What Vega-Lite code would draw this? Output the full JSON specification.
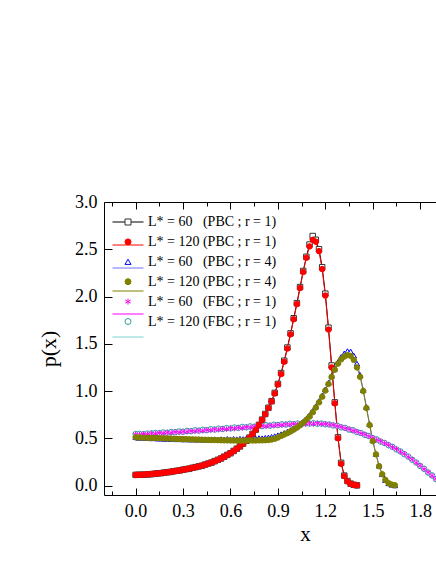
{
"$schema": "https://vega.github.io/schema/vega-lite/v6.json",
"width": 332, "height": 293,
"autosize": {"type": "none"},
"padding": {"left": 104, "top": 202, "right": 0, "bottom": 69},
"background": "white",
"config": {
  "view": {"stroke": null},
  "axis": {"labelFont": "Liberation Serif", "labelFontSize": 18, "labelColor": "black", "titleFont": "Liberation Serif", "titleColor": "black", "titleFontWeight": "normal", "domainColor": "black", "tickColor": "black", "grid": false, "labelFlush": false, "labelOverlap": false, "tickWidth": 1, "domainWidth": 1}
},
"data": {"values": [
{"s":"a","x":0,"p":0.113},{"s":"a","x":0.02,"p":0.114},{"s":"a","x":0.04,"p":0.114},{"s":"a","x":0.06,"p":0.116},{"s":"a","x":0.08,"p":0.118},{"s":"a","x":0.1,"p":0.121},{"s":"a","x":0.12,"p":0.124},{"s":"a","x":0.14,"p":0.129},{"s":"a","x":0.16,"p":0.131},{"s":"a","x":0.18,"p":0.137},{"s":"a","x":0.2,"p":0.141},{"s":"a","x":0.22,"p":0.144},{"s":"a","x":0.24,"p":0.151},{"s":"a","x":0.26,"p":0.156},{"s":"a","x":0.28,"p":0.16},{"s":"a","x":0.3,"p":0.168},{"s":"a","x":0.32,"p":0.174},{"s":"a","x":0.34,"p":0.179},{"s":"a","x":0.36,"p":0.188},{"s":"a","x":0.38,"p":0.195},{"s":"a","x":0.4,"p":0.203},{"s":"a","x":0.42,"p":0.21},{"s":"a","x":0.44,"p":0.222},{"s":"a","x":0.46,"p":0.233},{"s":"a","x":0.48,"p":0.243},{"s":"a","x":0.5,"p":0.258},{"s":"a","x":0.52,"p":0.272},{"s":"a","x":0.54,"p":0.286},{"s":"a","x":0.56,"p":0.305},{"s":"a","x":0.58,"p":0.324},{"s":"a","x":0.6,"p":0.342},{"s":"a","x":0.62,"p":0.366},{"s":"a","x":0.64,"p":0.39},{"s":"a","x":0.66,"p":0.414},{"s":"a","x":0.68,"p":0.444},{"s":"a","x":0.7,"p":0.474},{"s":"a","x":0.72,"p":0.507},{"s":"a","x":0.74,"p":0.547},{"s":"a","x":0.76,"p":0.592},{"s":"a","x":0.78,"p":0.642},{"s":"a","x":0.8,"p":0.697},{"s":"a","x":0.82,"p":0.757},{"s":"a","x":0.84,"p":0.823},{"s":"a","x":0.86,"p":0.893},{"s":"a","x":0.88,"p":0.98},{"s":"a","x":0.9,"p":1.075},{"s":"a","x":0.92,"p":1.19},{"s":"a","x":0.94,"p":1.32},{"s":"a","x":0.96,"p":1.46},{"s":"a","x":0.98,"p":1.61},{"s":"a","x":1.0,"p":1.77},{"s":"a","x":1.02,"p":1.93},{"s":"a","x":1.04,"p":2.1},{"s":"a","x":1.06,"p":2.27},{"s":"a","x":1.08,"p":2.42},{"s":"a","x":1.1,"p":2.55},{"s":"a","x":1.12,"p":2.64},{"s":"a","x":1.14,"p":2.6},{"s":"a","x":1.16,"p":2.5},{"s":"a","x":1.18,"p":2.31},{"s":"a","x":1.2,"p":2.03},{"s":"a","x":1.22,"p":1.67},{"s":"a","x":1.24,"p":1.27},{"s":"a","x":1.26,"p":0.88},{"s":"a","x":1.28,"p":0.51},{"s":"a","x":1.3,"p":0.24},{"s":"a","x":1.32,"p":0.105},{"s":"a","x":1.34,"p":0.048},{"s":"a","x":1.36,"p":0.02},{"s":"a","x":1.38,"p":0.008},{"s":"a","x":1.4,"p":0.002},
{"s":"c","x":0,"p":0.512},{"s":"c","x":0.02,"p":0.505},{"s":"c","x":0.04,"p":0.508},{"s":"c","x":0.06,"p":0.502},{"s":"c","x":0.08,"p":0.504},{"s":"c","x":0.1,"p":0.5},{"s":"c","x":0.12,"p":0.503},{"s":"c","x":0.14,"p":0.497},{"s":"c","x":0.16,"p":0.499},{"s":"c","x":0.18,"p":0.494},{"s":"c","x":0.2,"p":0.497},{"s":"c","x":0.22,"p":0.492},{"s":"c","x":0.24,"p":0.495},{"s":"c","x":0.26,"p":0.49},{"s":"c","x":0.28,"p":0.493},{"s":"c","x":0.3,"p":0.488},{"s":"c","x":0.32,"p":0.491},{"s":"c","x":0.34,"p":0.487},{"s":"c","x":0.36,"p":0.49},{"s":"c","x":0.38,"p":0.486},{"s":"c","x":0.4,"p":0.489},{"s":"c","x":0.42,"p":0.485},{"s":"c","x":0.44,"p":0.488},{"s":"c","x":0.46,"p":0.484},{"s":"c","x":0.48,"p":0.487},{"s":"c","x":0.5,"p":0.49},{"s":"c","x":0.52,"p":0.486},{"s":"c","x":0.54,"p":0.491},{"s":"c","x":0.56,"p":0.488},{"s":"c","x":0.58,"p":0.493},{"s":"c","x":0.6,"p":0.489},{"s":"c","x":0.62,"p":0.494},{"s":"c","x":0.64,"p":0.49},{"s":"c","x":0.66,"p":0.495},{"s":"c","x":0.68,"p":0.492},{"s":"c","x":0.7,"p":0.497},{"s":"c","x":0.72,"p":0.494},{"s":"c","x":0.74,"p":0.499},{"s":"c","x":0.76,"p":0.497},{"s":"c","x":0.78,"p":0.502},{"s":"c","x":0.8,"p":0.5},{"s":"c","x":0.82,"p":0.505},{"s":"c","x":0.84,"p":0.508},{"s":"c","x":0.86,"p":0.515},{"s":"c","x":0.88,"p":0.522},{"s":"c","x":0.9,"p":0.532},{"s":"c","x":0.92,"p":0.543},{"s":"c","x":0.94,"p":0.556},{"s":"c","x":0.96,"p":0.57},{"s":"c","x":0.98,"p":0.586},{"s":"c","x":1.0,"p":0.604},{"s":"c","x":1.02,"p":0.625},{"s":"c","x":1.04,"p":0.649},{"s":"c","x":1.06,"p":0.677},{"s":"c","x":1.08,"p":0.708},{"s":"c","x":1.1,"p":0.744},{"s":"c","x":1.12,"p":0.788},{"s":"c","x":1.14,"p":0.838},{"s":"c","x":1.16,"p":0.893},{"s":"c","x":1.18,"p":0.953},{"s":"c","x":1.2,"p":1.018},{"s":"c","x":1.22,"p":1.088},{"s":"c","x":1.24,"p":1.162},{"s":"c","x":1.26,"p":1.238},{"s":"c","x":1.28,"p":1.307},{"s":"c","x":1.3,"p":1.36},{"s":"c","x":1.32,"p":1.398},{"s":"c","x":1.34,"p":1.422},{"s":"c","x":1.36,"p":1.418},{"s":"c","x":1.38,"p":1.375},{"s":"c","x":1.4,"p":1.29},{"s":"c","x":1.42,"p":1.17},{"s":"c","x":1.44,"p":1.01},{"s":"c","x":1.46,"p":0.83},{"s":"c","x":1.48,"p":0.65},{"s":"c","x":1.5,"p":0.48},{"s":"c","x":1.52,"p":0.335},{"s":"c","x":1.54,"p":0.21},{"s":"c","x":1.56,"p":0.12},{"s":"c","x":1.58,"p":0.058},{"s":"c","x":1.6,"p":0.024},{"s":"c","x":1.62,"p":0.009},{"s":"c","x":1.64,"p":0.002},
{"s":"f","x":0,"p":0.545},{"s":"f","x":0.025,"p":0.547},{"s":"f","x":0.05,"p":0.543},{"s":"f","x":0.075,"p":0.55},{"s":"f","x":0.1,"p":0.552},{"s":"f","x":0.125,"p":0.556},{"s":"f","x":0.15,"p":0.553},{"s":"f","x":0.175,"p":0.562},{"s":"f","x":0.2,"p":0.559},{"s":"f","x":0.225,"p":0.566},{"s":"f","x":0.25,"p":0.564},{"s":"f","x":0.275,"p":0.572},{"s":"f","x":0.3,"p":0.569},{"s":"f","x":0.325,"p":0.578},{"s":"f","x":0.35,"p":0.575},{"s":"f","x":0.375,"p":0.584},{"s":"f","x":0.4,"p":0.581},{"s":"f","x":0.425,"p":0.59},{"s":"f","x":0.45,"p":0.586},{"s":"f","x":0.475,"p":0.596},{"s":"f","x":0.5,"p":0.592},{"s":"f","x":0.525,"p":0.602},{"s":"f","x":0.55,"p":0.598},{"s":"f","x":0.575,"p":0.608},{"s":"f","x":0.6,"p":0.604},{"s":"f","x":0.625,"p":0.614},{"s":"f","x":0.65,"p":0.61},{"s":"f","x":0.675,"p":0.62},{"s":"f","x":0.7,"p":0.616},{"s":"f","x":0.725,"p":0.626},{"s":"f","x":0.75,"p":0.622},{"s":"f","x":0.775,"p":0.632},{"s":"f","x":0.8,"p":0.628},{"s":"f","x":0.825,"p":0.638},{"s":"f","x":0.85,"p":0.634},{"s":"f","x":0.875,"p":0.644},{"s":"f","x":0.9,"p":0.64},{"s":"f","x":0.925,"p":0.648},{"s":"f","x":0.95,"p":0.645},{"s":"f","x":0.975,"p":0.653},{"s":"f","x":1.0,"p":0.649},{"s":"f","x":1.025,"p":0.656},{"s":"f","x":1.05,"p":0.652},{"s":"f","x":1.075,"p":0.659},{"s":"f","x":1.1,"p":0.655},{"s":"f","x":1.125,"p":0.66},{"s":"f","x":1.15,"p":0.654},{"s":"f","x":1.175,"p":0.656},{"s":"f","x":1.2,"p":0.648},{"s":"f","x":1.225,"p":0.646},{"s":"f","x":1.25,"p":0.636},{"s":"f","x":1.275,"p":0.632},{"s":"f","x":1.3,"p":0.616},{"s":"f","x":1.325,"p":0.61},{"s":"f","x":1.35,"p":0.592},{"s":"f","x":1.375,"p":0.585},{"s":"f","x":1.4,"p":0.566},{"s":"f","x":1.425,"p":0.556},{"s":"f","x":1.45,"p":0.536},{"s":"f","x":1.475,"p":0.524},{"s":"f","x":1.5,"p":0.502},{"s":"f","x":1.525,"p":0.488},{"s":"f","x":1.55,"p":0.465},{"s":"f","x":1.575,"p":0.45},{"s":"f","x":1.6,"p":0.427},{"s":"f","x":1.625,"p":0.409},{"s":"f","x":1.65,"p":0.382},{"s":"f","x":1.675,"p":0.361},{"s":"f","x":1.7,"p":0.332},{"s":"f","x":1.725,"p":0.306},{"s":"f","x":1.75,"p":0.272},{"s":"f","x":1.775,"p":0.244},{"s":"f","x":1.8,"p":0.207},{"s":"f","x":1.825,"p":0.177},{"s":"f","x":1.85,"p":0.137},{"s":"f","x":1.875,"p":0.107},{"s":"f","x":1.9,"p":0.068},
{"s":"e","x":0,"p":0.541},{"s":"e","x":0.025,"p":0.538},{"s":"e","x":0.05,"p":0.546},{"s":"e","x":0.075,"p":0.543},{"s":"e","x":0.1,"p":0.551},{"s":"e","x":0.125,"p":0.548},{"s":"e","x":0.15,"p":0.557},{"s":"e","x":0.175,"p":0.553},{"s":"e","x":0.2,"p":0.561},{"s":"e","x":0.225,"p":0.558},{"s":"e","x":0.25,"p":0.567},{"s":"e","x":0.275,"p":0.563},{"s":"e","x":0.3,"p":0.571},{"s":"e","x":0.325,"p":0.569},{"s":"e","x":0.35,"p":0.577},{"s":"e","x":0.375,"p":0.574},{"s":"e","x":0.4,"p":0.582},{"s":"e","x":0.425,"p":0.579},{"s":"e","x":0.45,"p":0.588},{"s":"e","x":0.475,"p":0.585},{"s":"e","x":0.5,"p":0.594},{"s":"e","x":0.525,"p":0.591},{"s":"e","x":0.55,"p":0.6},{"s":"e","x":0.575,"p":0.597},{"s":"e","x":0.6,"p":0.606},{"s":"e","x":0.625,"p":0.603},{"s":"e","x":0.65,"p":0.612},{"s":"e","x":0.675,"p":0.609},{"s":"e","x":0.7,"p":0.618},{"s":"e","x":0.725,"p":0.615},{"s":"e","x":0.75,"p":0.624},{"s":"e","x":0.775,"p":0.621},{"s":"e","x":0.8,"p":0.63},{"s":"e","x":0.825,"p":0.627},{"s":"e","x":0.85,"p":0.636},{"s":"e","x":0.875,"p":0.633},{"s":"e","x":0.9,"p":0.642},{"s":"e","x":0.925,"p":0.64},{"s":"e","x":0.95,"p":0.647},{"s":"e","x":0.975,"p":0.645},{"s":"e","x":1.0,"p":0.652},{"s":"e","x":1.025,"p":0.649},{"s":"e","x":1.05,"p":0.656},{"s":"e","x":1.075,"p":0.652},{"s":"e","x":1.1,"p":0.658},{"s":"e","x":1.125,"p":0.654},{"s":"e","x":1.15,"p":0.659},{"s":"e","x":1.175,"p":0.652},{"s":"e","x":1.2,"p":0.653},{"s":"e","x":1.225,"p":0.645},{"s":"e","x":1.25,"p":0.641},{"s":"e","x":1.275,"p":0.629},{"s":"e","x":1.3,"p":0.621},{"s":"e","x":1.325,"p":0.606},{"s":"e","x":1.35,"p":0.597},{"s":"e","x":1.375,"p":0.581},{"s":"e","x":1.4,"p":0.571},{"s":"e","x":1.425,"p":0.553},{"s":"e","x":1.45,"p":0.541},{"s":"e","x":1.475,"p":0.521},{"s":"e","x":1.5,"p":0.506},{"s":"e","x":1.525,"p":0.485},{"s":"e","x":1.55,"p":0.469},{"s":"e","x":1.575,"p":0.447},{"s":"e","x":1.6,"p":0.431},{"s":"e","x":1.625,"p":0.406},{"s":"e","x":1.65,"p":0.386},{"s":"e","x":1.675,"p":0.358},{"s":"e","x":1.7,"p":0.336},{"s":"e","x":1.725,"p":0.303},{"s":"e","x":1.75,"p":0.276},{"s":"e","x":1.775,"p":0.241},{"s":"e","x":1.8,"p":0.211},{"s":"e","x":1.825,"p":0.174},{"s":"e","x":1.85,"p":0.141},{"s":"e","x":1.875,"p":0.104},{"s":"e","x":1.9,"p":0.071},
{"s":"b","x":0,"p":0.112},{"s":"b","x":0.02,"p":0.113},{"s":"b","x":0.04,"p":0.115},{"s":"b","x":0.06,"p":0.117},{"s":"b","x":0.08,"p":0.119},{"s":"b","x":0.1,"p":0.122},{"s":"b","x":0.12,"p":0.125},{"s":"b","x":0.14,"p":0.128},{"s":"b","x":0.16,"p":0.132},{"s":"b","x":0.18,"p":0.136},{"s":"b","x":0.2,"p":0.14},{"s":"b","x":0.22,"p":0.145},{"s":"b","x":0.24,"p":0.15},{"s":"b","x":0.26,"p":0.155},{"s":"b","x":0.28,"p":0.161},{"s":"b","x":0.3,"p":0.167},{"s":"b","x":0.32,"p":0.173},{"s":"b","x":0.34,"p":0.18},{"s":"b","x":0.36,"p":0.187},{"s":"b","x":0.38,"p":0.194},{"s":"b","x":0.4,"p":0.202},{"s":"b","x":0.42,"p":0.211},{"s":"b","x":0.44,"p":0.221},{"s":"b","x":0.46,"p":0.232},{"s":"b","x":0.48,"p":0.244},{"s":"b","x":0.5,"p":0.257},{"s":"b","x":0.52,"p":0.271},{"s":"b","x":0.54,"p":0.287},{"s":"b","x":0.56,"p":0.304},{"s":"b","x":0.58,"p":0.323},{"s":"b","x":0.6,"p":0.343},{"s":"b","x":0.62,"p":0.365},{"s":"b","x":0.64,"p":0.389},{"s":"b","x":0.66,"p":0.415},{"s":"b","x":0.68,"p":0.443},{"s":"b","x":0.7,"p":0.473},{"s":"b","x":0.72,"p":0.506},{"s":"b","x":0.74,"p":0.545},{"s":"b","x":0.76,"p":0.59},{"s":"b","x":0.78,"p":0.64},{"s":"b","x":0.8,"p":0.695},{"s":"b","x":0.82,"p":0.755},{"s":"b","x":0.84,"p":0.82},{"s":"b","x":0.86,"p":0.89},{"s":"b","x":0.88,"p":0.975},{"s":"b","x":0.9,"p":1.07},{"s":"b","x":0.92,"p":1.18},{"s":"b","x":0.94,"p":1.31},{"s":"b","x":0.96,"p":1.45},{"s":"b","x":0.98,"p":1.6},{"s":"b","x":1.0,"p":1.76},{"s":"b","x":1.02,"p":1.92},{"s":"b","x":1.04,"p":2.09},{"s":"b","x":1.06,"p":2.26},{"s":"b","x":1.08,"p":2.41},{"s":"b","x":1.1,"p":2.53},{"s":"b","x":1.12,"p":2.6},{"s":"b","x":1.14,"p":2.58},{"s":"b","x":1.16,"p":2.48},{"s":"b","x":1.18,"p":2.29},{"s":"b","x":1.2,"p":2.01},{"s":"b","x":1.22,"p":1.65},{"s":"b","x":1.24,"p":1.25},{"s":"b","x":1.26,"p":0.87},{"s":"b","x":1.28,"p":0.5},{"s":"b","x":1.3,"p":0.23},{"s":"b","x":1.32,"p":0.1},{"s":"b","x":1.34,"p":0.045},{"s":"b","x":1.36,"p":0.018},{"s":"b","x":1.38,"p":0.007},{"s":"b","x":1.4,"p":0.002},
{"s":"d","x":0,"p":0.51},{"s":"d","x":0.02,"p":0.508},{"s":"d","x":0.04,"p":0.507},{"s":"d","x":0.06,"p":0.506},{"s":"d","x":0.08,"p":0.505},{"s":"d","x":0.1,"p":0.504},{"s":"d","x":0.12,"p":0.503},{"s":"d","x":0.14,"p":0.502},{"s":"d","x":0.16,"p":0.5},{"s":"d","x":0.18,"p":0.499},{"s":"d","x":0.2,"p":0.498},{"s":"d","x":0.22,"p":0.497},{"s":"d","x":0.24,"p":0.495},{"s":"d","x":0.26,"p":0.494},{"s":"d","x":0.28,"p":0.493},{"s":"d","x":0.3,"p":0.491},{"s":"d","x":0.32,"p":0.49},{"s":"d","x":0.34,"p":0.489},{"s":"d","x":0.36,"p":0.488},{"s":"d","x":0.38,"p":0.487},{"s":"d","x":0.4,"p":0.486},{"s":"d","x":0.42,"p":0.485},{"s":"d","x":0.44,"p":0.484},{"s":"d","x":0.46,"p":0.483},{"s":"d","x":0.48,"p":0.482},{"s":"d","x":0.5,"p":0.481},{"s":"d","x":0.52,"p":0.48},{"s":"d","x":0.54,"p":0.479},{"s":"d","x":0.56,"p":0.478},{"s":"d","x":0.58,"p":0.478},{"s":"d","x":0.6,"p":0.477},{"s":"d","x":0.62,"p":0.477},{"s":"d","x":0.64,"p":0.476},{"s":"d","x":0.66,"p":0.476},{"s":"d","x":0.68,"p":0.476},{"s":"d","x":0.7,"p":0.476},{"s":"d","x":0.72,"p":0.477},{"s":"d","x":0.74,"p":0.477},{"s":"d","x":0.76,"p":0.477},{"s":"d","x":0.78,"p":0.478},{"s":"d","x":0.8,"p":0.478},{"s":"d","x":0.82,"p":0.48},{"s":"d","x":0.84,"p":0.482},{"s":"d","x":0.86,"p":0.487},{"s":"d","x":0.88,"p":0.495},{"s":"d","x":0.9,"p":0.508},{"s":"d","x":0.92,"p":0.525},{"s":"d","x":0.94,"p":0.54},{"s":"d","x":0.96,"p":0.555},{"s":"d","x":0.98,"p":0.572},{"s":"d","x":1.0,"p":0.592},{"s":"d","x":1.02,"p":0.613},{"s":"d","x":1.04,"p":0.637},{"s":"d","x":1.06,"p":0.665},{"s":"d","x":1.08,"p":0.695},{"s":"d","x":1.1,"p":0.73},{"s":"d","x":1.12,"p":0.775},{"s":"d","x":1.14,"p":0.825},{"s":"d","x":1.16,"p":0.88},{"s":"d","x":1.18,"p":0.94},{"s":"d","x":1.2,"p":1.005},{"s":"d","x":1.22,"p":1.075},{"s":"d","x":1.24,"p":1.15},{"s":"d","x":1.26,"p":1.225},{"s":"d","x":1.28,"p":1.29},{"s":"d","x":1.3,"p":1.335},{"s":"d","x":1.32,"p":1.365},{"s":"d","x":1.34,"p":1.38},{"s":"d","x":1.36,"p":1.372},{"s":"d","x":1.38,"p":1.33},{"s":"d","x":1.4,"p":1.25},{"s":"d","x":1.42,"p":1.15},{"s":"d","x":1.44,"p":1.0},{"s":"d","x":1.46,"p":0.82},{"s":"d","x":1.48,"p":0.64},{"s":"d","x":1.5,"p":0.47},{"s":"d","x":1.52,"p":0.33},{"s":"d","x":1.54,"p":0.205},{"s":"d","x":1.56,"p":0.12},{"s":"d","x":1.58,"p":0.06},{"s":"d","x":1.6,"p":0.025},{"s":"d","x":1.62,"p":0.01},{"s":"d","x":1.64,"p":0.003}
]},
"layer": [
  {
    "mark": {"type": "line", "strokeWidth": 1, "clip": true},
    "encoding": {
      "x": {"field": "x", "type": "quantitative", "scale": {"domain": [-0.2, 1.9], "nice": false, "zero": false},
        "axis": {"orient": "bottom", "values": [-0.15,0,0.15,0.3,0.45,0.6,0.75,0.9,1.05,1.2,1.35,1.5,1.65,1.8],
          "labelExpr": "abs(datum.value/0.3-round(datum.value/0.3))<0.001 ? format(datum.value,'.1f') : ''",
          "tickSize": {"condition": {"test": "abs(datum.value/0.3-round(datum.value/0.3))<0.001", "value": -7}, "value": -4},
          "labelPadding": 14, "title": "x", "titleFontSize": 21, "titleX": 201, "titleY": 45, "titleBaseline": "alphabetic"}},
      "y": {"field": "p", "type": "quantitative", "scale": {"domain": [-0.1, 3.0], "nice": false, "zero": false},
        "axis": {"orient": "left", "values": [0,0.25,0.5,0.75,1,1.25,1.5,1.75,2,2.25,2.5,2.75,3],
          "labelExpr": "abs(datum.value*2-round(datum.value*2))<0.001 ? format(datum.value,'.1f') : ''",
          "tickSize": {"condition": {"test": "abs(datum.value*2-round(datum.value*2))<0.001", "value": -8}, "value": -5},
          "labelPadding": 15, "title": "p(x)", "titleFontSize": 22, "titlePadding": 14}},
      "color": {"field": "s", "type": "nominal", "scale": {"domain": ["a","b","c","d","e","f","z"], "range": ["#000000","#ff0000","#7070ff","#808000","#ff00ff","#80d0d0","#000000"]},
        "legend": {"orient": "none", "legendX": 8, "legendY": 4, "values": ["a","b","c","d","e","f"], "title": null, "padding": 0, "rowPadding": -13.9,
          "symbolType": "stroke", "symbolSize": 961, "symbolStrokeWidth": 1, "symbolOpacity": 1, "labelExpr": "''", "labelOpacity": 0, "labelFontSize": 14}}
    }
  },
  {
    "mark": {"type": "point", "filled": true, "opacity": 1, "strokeWidth": 1, "size": 30, "clip": true},
    "encoding": {
      "x": {"field": "x", "type": "quantitative",
        "axis": {"orient": "top", "values": [-0.15,0,0.15,0.3,0.45,0.6,0.75,0.9,1.05,1.2,1.35,1.5,1.65,1.8], "labels": false, "title": null,
          "tickSize": {"condition": {"test": "abs(datum.value/0.3-round(datum.value/0.3))<0.001", "value": -7}, "value": -4}}},
      "y": {"field": "p", "type": "quantitative"},
      "shape": {"field": "s", "type": "nominal",
        "scale": {"domain": ["a","b","c","d","e","f"], "range": ["square","circle","triangle-up","circle","M0,-1V1M-0.87,-0.5L0.87,0.5M-0.87,0.5L0.87,-0.5","circle"]},
        "legend": {"orient": "none", "legendX": 17, "legendY": 13, "title": null, "padding": 0, "rowPadding": 5.9, "labelOffset": 13,
          "labelFont": "Liberation Serif", "labelFontSize": 14, "labelColor": "black", "symbolSize": 36, "symbolStrokeWidth": 1, "symbolOpacity": 1, "labelLimit": 300,
          "labelExpr": "datum.value == 'a' ? 'L* = 60\u2007 (PBC ; r = 1)' : datum.value == 'b' ? 'L* = 120 (PBC ; r = 1)' : datum.value == 'c' ? 'L* = 60\u2007 (PBC ; r = 4)' : datum.value == 'd' ? 'L* = 120 (PBC ; r = 4)' : datum.value == 'e' ? 'L* = 60\u2007 (FBC ; r = 1)' : 'L* = 120 (FBC ; r = 1)'"}},
      "stroke": {"field": "s", "type": "nominal", "scale": {"domain": ["a","b","c","d","e","f"], "range": ["#333333","#ff0000","#0000ff","#808000","#ff00ff","#2a9d9d"]}},
      "fill": {"field": "s", "type": "nominal", "scale": {"domain": ["a","b","c","d","e","f"], "range": ["#ffffff","#ff0000","#ffffff","#808000","#ff00ff","#ffffff"]}}
    }
  }
],
"resolve": {"axis": {"x": "independent"}}
}
